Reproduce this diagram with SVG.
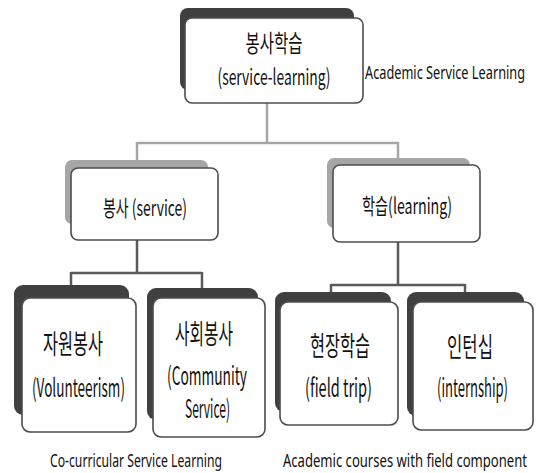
<svg xmlns="http://www.w3.org/2000/svg" width="537" height="473" viewBox="0 0 537 473">
  <style>
    .back-dark { fill: #404040; }
    .back-light { fill: #a6a6a6; }
    .front { fill: #ffffff; stroke: #4d4d4d; stroke-width: 1.6; }
    .label { font-family: "Noto Sans CJK KR", "Noto Sans", sans-serif; fill: #111111; text-anchor: middle; }
    .caption { font-family: "Noto Sans", "Noto Sans CJK KR", sans-serif; fill: #111111; font-size: 17.5px; }
    .link-light { fill: none; stroke: #a6a6a6; stroke-width: 2.5; }
    .link-dark { fill: none; stroke: #5a5a5a; stroke-width: 2.5; }
  </style>
  <rect width="537" height="473" fill="#ffffff"/>

  <!-- connectors -->
  <g id="connectors">
    <path class="link-light" d="M267 103 V143 M137 143 H398 M137 142 V160 M398 142 V158"/>
    <path class="link-dark" d="M137 240 V273 M71 273 H202 M71 272 V285 M202 272 V288"/>
    <path class="link-dark" d="M398 242 V285 M331 285 H465 M331 284 V292 M465 284 V292"/>
  </g>

  <!-- root; labels use a narrow horizontal scale -->
  <g id="node-service-learning">
    <rect class="back-dark" x="180" y="8" width="174" height="82" rx="8"/>
    <rect class="front" x="185" y="18" width="178" height="85" rx="7"/>
    <text class="label" transform="matrix(0.56 0 0 1 274 52)" font-size="24" textLength="101.8" lengthAdjust="spacingAndGlyphs">봉사학습</text>
    <text class="label" transform="matrix(0.56 0 0 1 274 85)" font-size="22" textLength="201.8" lengthAdjust="spacingAndGlyphs">(service-learning)</text>
  </g>
  <text class="caption" transform="matrix(0.63 0 0 1 365 79)" textLength="254" lengthAdjust="spacingAndGlyphs">Academic Service Learning</text>

  <!-- second level -->
  <g id="node-service">
    <rect class="back-light" x="65" y="160" width="143" height="64" rx="7"/>
    <rect class="front" x="71" y="168" width="147" height="72" rx="7"/>
    <text class="label" transform="matrix(0.56 0 0 1 145 216)" font-size="22" textLength="150" lengthAdjust="spacingAndGlyphs">봉사 (service)</text>
  </g>
  <g id="node-learning">
    <rect class="back-light" x="327" y="158" width="143" height="70" rx="7"/>
    <rect class="front" x="333" y="165" width="147" height="77" rx="7"/>
    <text class="label" transform="matrix(0.56 0 0 1 407 214)" font-size="22" textLength="160.7" lengthAdjust="spacingAndGlyphs">학습(learning)</text>
  </g>

  <!-- third level -->
  <g id="node-volunteerism">
    <rect class="back-dark" x="14" y="285" width="115" height="130" rx="9"/>
    <rect class="front" x="22" y="298" width="114" height="134" rx="8"/>
    <text class="label" transform="matrix(0.56 0 0 1 73 354)" font-size="27" textLength="107.1" lengthAdjust="spacingAndGlyphs">자원봉사</text>
    <text class="label" transform="matrix(0.56 0 0 1 78.5 397)" font-size="25" textLength="166" lengthAdjust="spacingAndGlyphs">(Volunteerism)</text>
  </g>
  <g id="node-community-service">
    <rect class="back-dark" x="147" y="288" width="111" height="132" rx="9"/>
    <rect class="front" x="153" y="298" width="112" height="139" rx="8"/>
    <text class="label" transform="matrix(0.56 0 0 1 204 344)" font-size="27" textLength="103.6" lengthAdjust="spacingAndGlyphs">사회봉사</text>
    <text class="label" transform="matrix(0.56 0 0 1 207 385)" font-size="25" textLength="142.9" lengthAdjust="spacingAndGlyphs">(Community</text>
    <text class="label" transform="matrix(0.56 0 0 1 207.5 418)" font-size="25" textLength="80.4" lengthAdjust="spacingAndGlyphs">Service)</text>
  </g>
  <g id="node-field-trip">
    <rect class="back-dark" x="275" y="292" width="116" height="120" rx="9"/>
    <rect class="front" x="280" y="302" width="118" height="123" rx="8"/>
    <text class="label" transform="matrix(0.56 0 0 1 340 356)" font-size="27" textLength="107.1" lengthAdjust="spacingAndGlyphs">현장학습</text>
    <text class="label" transform="matrix(0.56 0 0 1 338.5 397)" font-size="25" textLength="119.6" lengthAdjust="spacingAndGlyphs">(field trip)</text>
  </g>
  <g id="node-internship">
    <rect class="back-dark" x="407" y="292" width="117" height="124" rx="9"/>
    <rect class="front" x="413" y="302" width="120" height="128" rx="8"/>
    <text class="label" transform="matrix(0.56 0 0 1 470 357)" font-size="27" textLength="82.1" lengthAdjust="spacingAndGlyphs">인턴십</text>
    <text class="label" transform="matrix(0.56 0 0 1 472.5 397)" font-size="25" textLength="126.8" lengthAdjust="spacingAndGlyphs">(internship)</text>
  </g>

  <text class="caption" transform="matrix(0.63 0 0 1 50 467)" textLength="273" lengthAdjust="spacingAndGlyphs">Co-curricular Service Learning</text>
  <text class="caption" transform="matrix(0.63 0 0 1 283 467)" textLength="387.3" lengthAdjust="spacingAndGlyphs">Academic courses with field component</text>
</svg>
